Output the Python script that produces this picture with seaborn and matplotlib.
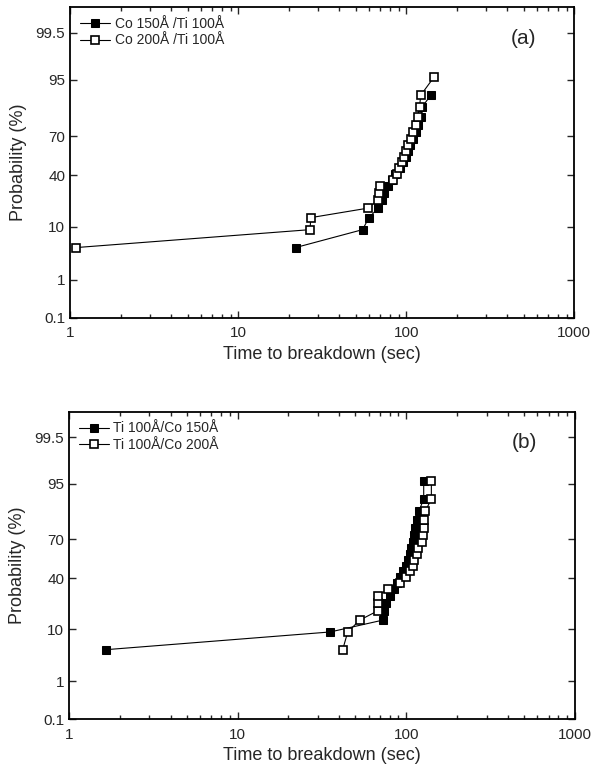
import numpy as np
import pandas as pd
import seaborn as sns
import matplotlib
matplotlib.use("Agg")
import matplotlib.pyplot as plt
from matplotlib.ticker import FixedLocator, FixedFormatter, LogLocator, NullFormatter, NullLocator, FuncFormatter
from statistics import NormalDist

# breakdown times (sec); probability = rank/22
a_co150 = [22, 55, 60, 68, 72, 74, 78, 82, 86, 92, 96, 100, 103, 106, 110, 114, 118, 122, 124, 140]
a_co200 = [1.09, 26.8, 27, 59, 68, 69, 70, 84, 88, 91, 94, 97, 100, 103, 107, 110, 114, 117, 120, 122, 146]
b_co150 = [1.66, 35.4, 72.7, 74, 76, 80, 85, 88, 92, 96, 100, 102, 105, 107, 109, 111, 113, 116, 119, 127, 127]
b_co200 = [42, 45, 53, 68, 68, 68, 78, 92, 100, 106, 110, 111, 116, 118, 124, 126, 127, 128, 130, 141, 141]

prob_ticks = [0.1, 1, 10, 40, 70, 95, 99.5]
prob_labels = ["0.1", "1", "10", "40", "70", "95", "99.5"]

labels_a = ["Co 150Å /Ti 100Å", "Co 200Å /Ti 100Å"]
labels_b = ["Ti 100Å/Co 150Å", "Ti 100Å/Co 200Å"]

nd = NormalDist()
_ppf = np.vectorize(lambda p: nd.inv_cdf(min(max(p / 100.0, 1e-9), 1 - 1e-9)), otypes=[float])
_cdf = np.vectorize(lambda z: nd.cdf(z) * 100.0, otypes=[float])


def probit(p):
    return _ppf(np.asarray(p, dtype=float))


def inv_probit(z):
    return _cdf(np.asarray(z, dtype=float))


def ranks(t):
    n = len(t)
    return [100.0 * (i + 1) / 22 for i in range(n)]


sns.set_style("ticks")
plt.rcParams["font.family"] = ["Liberation Sans", "DejaVu Sans"]
plt.rcParams["xtick.direction"] = "in"
plt.rcParams["ytick.direction"] = "in"

fig = plt.figure(figsize=(6, 7.69), dpi=100)
ax1 = fig.add_axes([0.117, 0.5865, 0.840, 0.4045])
ax2 = fig.add_axes([0.115, 0.0646, 0.843, 0.400])


def draw(ax, s_filled, s_open, labels, tag):
    d1 = pd.DataFrame({"t": s_filled, "p": ranks(s_filled)})
    d2 = pd.DataFrame({"t": s_open, "p": ranks(s_open)})
    sns.lineplot(data=d1, x="t", y="p", ax=ax, sort=False, estimator=None,
                 color="black", lw=0.8, marker="s", markersize=5.3,
                 markerfacecolor="black", markeredgecolor="black", label=labels[0])
    sns.lineplot(data=d2, x="t", y="p", ax=ax, sort=False, estimator=None,
                 color="black", lw=0.8, marker="s", markersize=5.3,
                 markerfacecolor="white", markeredgecolor="black", markeredgewidth=1.2,
                 label=labels[1])
    ax.set_xscale("log")
    ax.set_yscale("function", functions=(probit, inv_probit))
    ax.set_xlim(1, 1000)
    ax.set_ylim(0.1, 99.9)
    ax.yaxis.set_major_locator(FixedLocator(prob_ticks))
    ax.yaxis.set_major_formatter(FixedFormatter(prob_labels))
    ax.yaxis.set_minor_locator(NullLocator())
    ax.xaxis.set_major_locator(LogLocator(base=10))
    ax.xaxis.set_major_formatter(FuncFormatter(lambda v, pos: "%g" % v))
    ax.xaxis.set_minor_locator(LogLocator(base=10, subs=np.arange(2, 10)))
    ax.xaxis.set_minor_formatter(NullFormatter())
    ax.tick_params(which="both", top=True, right=True, labelsize=11, width=1)
    ax.tick_params(axis="x", which="major", pad=6)
    ax.tick_params(which="major", length=5)
    ax.tick_params(which="minor", length=3)
    for sp in ax.spines.values():
        sp.set_linewidth(1.3)
        sp.set_color("black")
    ax.set_xlabel("Time to breakdown (sec)", fontsize=13, labelpad=4)
    ax.set_ylabel("Probability (%)", fontsize=13, labelpad=6)
    ax.text(0.9, 0.9, tag, transform=ax.transAxes, fontsize=15, ha="center", va="center")
    ax.legend(loc="upper left", frameon=False, fontsize=10, handlelength=2.2,
              handletextpad=0.3, borderaxespad=0.3, labelspacing=0.2)


draw(ax1, a_co150, a_co200, labels_a, "(a)")
draw(ax2, b_co150, b_co200, labels_b, "(b)")

fig.savefig("out.png", dpi=100)
